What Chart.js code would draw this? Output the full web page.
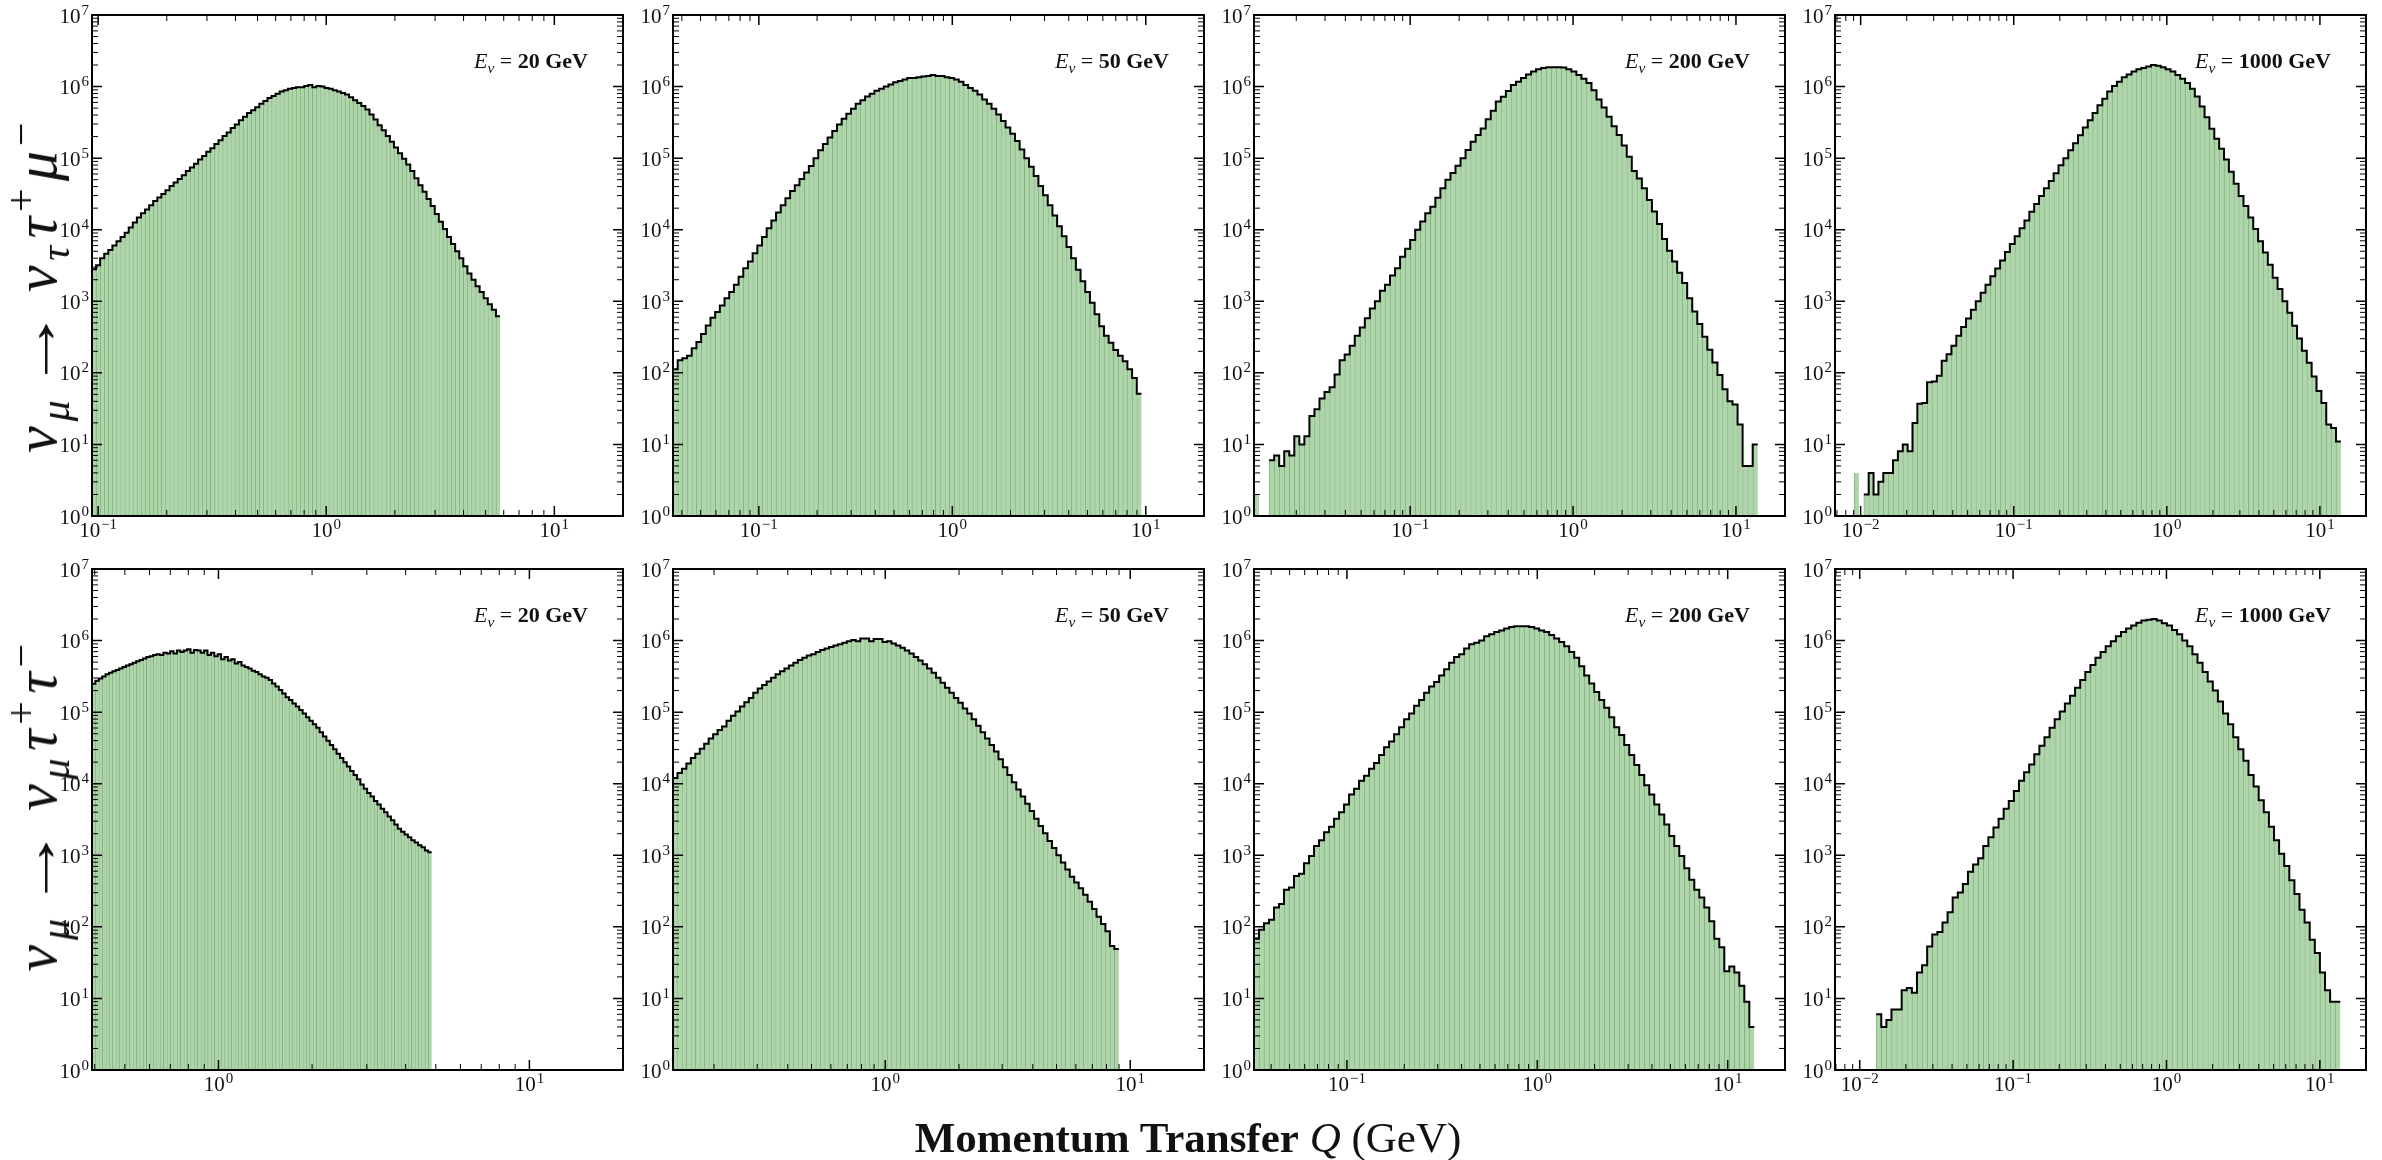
<!DOCTYPE html>
<html>
<head>
<meta charset="utf-8">
<script src="https://cdn.jsdelivr.net/npm/chart.js@4.4.0/dist/chart.umd.min.js"></script>
<style>
  html, body { margin: 0; padding: 0; background: #fff; }
  body { width: 2382px; height: 1160px; position: relative; overflow: hidden;
         font-family: "Liberation Serif", "DejaVu Serif", serif; color: #111; }
  .panel { position: absolute; }
  .energy { position: absolute; font-size: 22px; line-height: 1; white-space: nowrap;
            transform: translate(-100%, -50%); }
  .energy sub { font-size: 70%; line-height: 0; }
  .rowlabel { position: absolute; font-size: 60px; line-height: 1; white-space: nowrap;
              letter-spacing: 0.08em; transform: translate(-50%, -50%) rotate(-90deg); }
  .rowlabel sub, .rowlabel sup { font-size: 70%; line-height: 0; margin-right: 0.06em; }
  .rowlabel .arr { display: inline-block; transform: scaleX(1.4); margin: 0 0.35em 0 0.25em; }
  .xtitle { position: absolute; font-size: 43px; line-height: 1; white-space: nowrap;
            transform: translate(-50%, -50%); }
</style>
</head>
<body>
<script>
// incoming neutrino energies (GeV), one per column
const energies = [20, 50, 200, 1000];

// row 1: nu_mu -> nu_tau tau+ mu-   (event counts per log-spaced Q bin)
const muTau20 = [
  2.8e3, 3.2e3, 4.0e3, 4.6e3, 5.2e3, 6.0e3, 6.9e3, 7.9e3, 9.1e3, 1.07e4,
  1.26e4, 1.48e4, 1.70e4, 1.91e4, 2.19e4, 2.51e4, 2.82e4, 3.16e4, 3.55e4, 4.07e4,
  4.57e4, 5.13e4, 5.75e4, 6.61e4, 7.41e4, 8.32e4, 9.55e4, 1.07e5, 1.23e5, 1.38e5,
  1.58e5, 1.78e5, 2.04e5, 2.29e5, 2.63e5, 2.95e5, 3.39e5, 3.80e5, 4.27e5, 4.68e5,
  5.13e5, 5.75e5, 6.31e5, 6.92e5, 7.41e5, 7.94e5, 8.51e5, 8.91e5, 9.33e5, 9.55e5,
  9.77e5, 9.77e5, 1.02e6, 1.05e6, 9.77e5, 1.02e6, 1.00e6, 9.55e5, 9.33e5, 8.91e5,
  8.51e5, 8.13e5, 7.76e5, 7.08e5, 6.46e5, 5.89e5, 5.37e5, 4.79e5, 4.07e5, 3.47e5,
  2.88e5, 2.45e5, 2.04e5, 1.70e5, 1.41e5, 1.17e5, 9.77e4, 8.13e4, 6.61e4, 5.25e4,
  4.17e4, 3.39e4, 2.69e4, 2.14e4, 1.66e4, 1.29e4, 1.02e4, 7.94e3, 6.31e3, 5.01e3,
  3.98e3, 3.09e3, 2.45e3, 2.00e3, 1.62e3, 1.35e3, 1.10e3, 912, 759, 617
];
const muTau50 = [
  112, 150, 160, 174, 220, 270, 350, 460, 590, 710,
  870, 1100, 1350, 1700, 2200, 2900, 3600, 4700, 6000, 7900,
  1.05e4, 1.35e4, 1.74e4, 2.19e4, 2.75e4, 3.47e4, 4.17e4, 5.13e4, 6.31e4, 7.76e4,
  1.0e5, 1.29e5, 1.58e5, 1.95e5, 2.40e5, 2.95e5, 3.55e5, 4.17e5, 4.90e5, 5.75e5,
  6.46e5, 7.24e5, 7.94e5, 8.71e5, 9.33e5, 1.0e6, 1.07e6, 1.15e6, 1.20e6, 1.26e6,
  1.32e6, 1.32e6, 1.35e6, 1.38e6, 1.41e6, 1.45e6, 1.41e6, 1.41e6, 1.35e6, 1.32e6,
  1.26e6, 1.17e6, 1.05e6, 9.55e5, 8.71e5, 7.76e5, 6.61e5, 5.75e5, 4.90e5, 4.07e5,
  3.31e5, 2.69e5, 2.19e5, 1.74e5, 1.32e5, 1.0e5, 7.59e4, 5.62e4, 4.07e4, 3.02e4,
  2.19e4, 1.58e4, 1.12e4, 8130, 5750, 3980, 2750, 1910, 1350, 955,
  661, 447, 331, 263, 209, 174, 145, 112, 85, 51
];
const muTau200 = [
  2, 0, 0, 6, 7, 5, 8, 7, 13, 10,
  13, 25, 31, 44, 54, 63, 95, 150, 180, 240,
  330, 430, 580, 790, 1000, 1400, 1700, 2300, 2900, 4200,
  5400, 7200, 1.0e4, 1.3e4, 1.7e4, 2.1e4, 2.8e4, 3.8e4, 5.0e4, 6.2e4,
  7.8e4, 1.0e5, 1.3e5, 1.7e5, 2.1e5, 2.6e5, 3.5e5, 4.6e5, 6.2e5, 7.2e5,
  8.7e5, 1.05e6, 1.17e6, 1.32e6, 1.48e6, 1.62e6, 1.74e6, 1.82e6, 1.86e6, 1.86e6,
  1.86e6, 1.84e6, 1.74e6, 1.62e6, 1.45e6, 1.29e6, 1.12e6, 8.9e5, 6.6e5, 5.1e5,
  3.8e5, 2.8e5, 2.1e5, 1.5e5, 1.05e5, 6.6e4, 5.2e4, 3.8e4, 2.6e4, 1.8e4,
  1.2e4, 7400, 5100, 3600, 2500, 1800, 1100, 720, 480, 320,
  210, 140, 93, 59, 40, 36, 19, 5, 5, 10
];
const muTau1000 = [
  4, 0, 2, 4, 2, 3, 4, 4, 6, 8,
  10, 8, 20, 37, 38, 74, 76, 91, 148, 182,
  240, 331, 437, 575, 759, 1000, 1320, 1700, 2240, 2880,
  3720, 4900, 6310, 8130, 1.05e4, 1.35e4, 1.78e4, 2.29e4, 2.95e4, 3.80e4,
  4.79e4, 6.17e4, 7.94e4, 1.0e5, 1.29e5, 1.62e5, 2.09e5, 2.69e5, 3.39e5, 4.27e5,
  5.50e5, 6.76e5, 8.51e5, 1.02e6, 1.17e6, 1.35e6, 1.48e6, 1.62e6, 1.74e6, 1.82e6,
  1.91e6, 2.0e6, 1.95e6, 1.86e6, 1.74e6, 1.62e6, 1.45e6, 1.29e6, 1.12e6, 9.33e5,
  7.24e5, 5.25e5, 3.72e5, 2.57e5, 1.86e5, 1.35e5, 9.55e4, 6.46e4, 4.37e4, 2.95e4,
  2.14e4, 1.48e4, 1.02e4, 6920, 4790, 3240, 2140, 1480, 1000, 692,
  457, 302, 204, 138, 89, 56, 38, 19, 17, 11
];

// row 2: nu_mu -> nu_mu tau+ tau-
const tauTau20 = [
  2.50e5, 2.75e5, 2.95e5, 3.16e5, 3.39e5, 3.55e5, 3.72e5, 3.89e5, 4.07e5, 4.27e5,
  4.47e5, 4.68e5, 4.90e5, 5.13e5, 5.37e5, 5.62e5, 5.89e5, 6.03e5, 6.31e5, 6.46e5,
  6.31e5, 6.76e5, 6.61e5, 7.08e5, 6.61e5, 7.24e5, 6.92e5, 7.24e5, 7.59e5, 6.76e5,
  7.41e5, 7.24e5, 6.76e5, 7.24e5, 6.31e5, 6.76e5, 6.03e5, 6.46e5, 5.50e5, 5.89e5,
  5.25e5, 5.50e5, 4.79e5, 5.01e5, 4.47e5, 4.27e5, 4.07e5, 3.80e5, 3.63e5, 3.39e5,
  3.16e5, 3.02e5, 2.82e5, 2.51e5, 2.29e5, 2.04e5, 1.82e5, 1.62e5, 1.48e5, 1.32e5,
  1.20e5, 1.07e5, 9.55e4, 8.51e4, 7.59e4, 6.76e4, 6.03e4, 5.25e4, 4.57e4, 3.98e4,
  3.47e4, 3.02e4, 2.63e4, 2.29e4, 2.00e4, 1.74e4, 1.51e4, 1.32e4, 1.15e4, 9770,
  8510, 7410, 6610, 5750, 5130, 4470, 3980, 3470, 3090, 2690,
  2340, 2140, 1950, 1780, 1620, 1510, 1380, 1290, 1170, 1100
];
const tauTau50 = [
  1.20e4, 1.41e4, 1.62e4, 1.91e4, 2.29e4, 2.63e4, 3.09e4, 3.63e4, 4.27e4, 4.90e4,
  5.62e4, 6.31e4, 7.59e4, 8.91e4, 1.02e5, 1.20e5, 1.38e5, 1.58e5, 1.86e5, 2.14e5,
  2.40e5, 2.69e5, 3.02e5, 3.39e5, 3.72e5, 4.07e5, 4.47e5, 4.90e5, 5.37e5, 5.75e5,
  6.17e5, 6.46e5, 6.92e5, 7.41e5, 7.76e5, 8.13e5, 8.51e5, 8.91e5, 9.33e5, 9.77e5,
  1.02e6, 9.77e5, 1.07e6, 1.07e6, 9.77e5, 1.05e6, 1.05e6, 9.55e5, 9.77e5, 9.12e5,
  8.51e5, 7.94e5, 7.24e5, 6.61e5, 5.89e5, 5.25e5, 4.68e5, 4.07e5, 3.55e5, 3.02e5,
  2.57e5, 2.19e5, 1.86e5, 1.58e5, 1.35e5, 1.12e5, 9.55e4, 7.94e4, 6.46e4, 5.25e4,
  4.27e4, 3.47e4, 2.82e4, 2.19e4, 1.70e4, 1.32e4, 1.05e4, 8320, 6610, 5250,
  4170, 3240, 2570, 2040, 1580, 1260, 1000, 794, 631, 501,
  417, 347, 282, 224, 178, 138, 110, 87, 54, 49
];
const tauTau200 = [
  68, 91, 112, 126, 186, 209, 331, 355, 513, 550,
  776, 977, 1350, 1620, 2090, 2510, 3240, 3980, 5130, 7080,
  8510, 1.10e4, 1.29e4, 1.62e4, 1.95e4, 2.51e4, 3.24e4, 3.89e4, 4.90e4, 6.17e4,
  7.94e4, 9.55e4, 1.23e5, 1.48e5, 1.86e5, 2.29e5, 2.63e5, 3.24e5, 3.98e5, 4.90e5,
  5.89e5, 6.46e5, 7.76e5, 8.91e5, 9.33e5, 1.00e6, 1.15e6, 1.23e6, 1.32e6, 1.38e6,
  1.48e6, 1.55e6, 1.58e6, 1.58e6, 1.58e6, 1.55e6, 1.48e6, 1.38e6, 1.32e6, 1.20e6,
  1.07e6, 9.55e5, 8.32e5, 6.92e5, 5.75e5, 4.37e5, 3.24e5, 2.51e5, 1.91e5, 1.48e5,
  1.15e5, 8.51e4, 6.17e4, 4.79e4, 3.47e4, 2.51e4, 1.82e4, 1.32e4, 9550, 7080,
  5130, 3720, 2690, 1860, 1350, 977, 661, 457, 331, 257,
  186, 120, 68, 52, 24, 28, 23, 15, 9, 4
];
const tauTau1000 = [
  6, 4, 5, 7, 7, 13, 14, 12, 23, 29,
  53, 78, 85, 115, 160, 257, 302, 398, 589, 741,
  912, 1350, 1780, 2450, 3240, 4470, 5750, 7940, 1.10e4, 1.45e4,
  1.86e4, 2.57e4, 3.39e4, 4.47e4, 6.03e4, 7.94e4, 1.02e5, 1.32e5, 1.70e5, 2.19e5,
  2.82e5, 3.63e5, 4.57e5, 5.75e5, 6.92e5, 8.32e5, 9.77e5, 1.15e6, 1.32e6, 1.48e6,
  1.62e6, 1.78e6, 1.91e6, 1.95e6, 2.0e6, 1.91e6, 1.74e6, 1.62e6, 1.41e6, 1.23e6,
  1.0e6, 8.32e5, 6.46e5, 4.90e5, 3.63e5, 2.69e5, 2.00e5, 1.41e5, 9.55e4, 6.76e4,
  4.47e4, 3.02e4, 2.09e4, 1.32e4, 9120, 5890, 3980, 2510, 1620, 1050,
  708, 447, 288, 174, 115, 66, 43, 23, 13, 9,
  9
];

// histogram Q range (GeV) and x-axis lower limit of each panel
const qBinLow  = [[0.094, 0.036, 0.011, 0.00906], [0.392, 0.136, 0.0325, 0.0128]];
const qBinHigh = [[5.78, 9.5, 13.6, 13.7],        [4.85, 8.98, 13.8, 13.6]];
const qAxisMin = [[0.094, 0.036, 0.011, 0.0068],  [0.392, 0.136, 0.0325, 0.0069]];
const qAxisMax = 20;
const yTickMin = 1, yTickMax = 1e7;

const counts = [
  [muTau20, muTau50, muTau200, muTau1000],
  [tauTau20, tauTau50, tauTau200, tauTau1000]
];

// layout (px)
const colLeft = [92, 673, 1254, 1835];
const rowTop = [15, 569];
const PLOT_W = 531, PLOT_H = 501;
const AXIS_W = 62, AXIS_H = 44, PAD = 24;
const FONT = '"Liberation Serif", "DejaVu Serif", serif';
const BASE_FONT = '21px ' + FONT, EXP_FONT = '15px ' + FONT;

function decades(min, max) {
  const out = [];
  const lo = Math.ceil(Math.log10(min) - 1e-9), hi = Math.floor(Math.log10(max) + 1e-9);
  for (let e = lo; e <= hi; e++) out.push(Math.pow(10, e));
  return out;
}
function minors(min, max) {
  const out = [];
  for (let e = Math.floor(Math.log10(min)); e <= Math.ceil(Math.log10(max)); e++) {
    for (let k = 2; k <= 9; k++) {
      const v = k * Math.pow(10, e);
      if (v > min && v < max) out.push(v);
    }
  }
  return out;
}
function expText(v) {
  const e = Math.round(Math.log10(v));
  return e < 0 ? '\u2212' + (-e) : String(e);
}
// "10" with a raised exponent, left edge at x, baseline at y
function powWidth(ctx, v) {
  ctx.font = BASE_FONT;
  const w1 = ctx.measureText('10').width;
  ctx.font = EXP_FONT;
  return [w1, ctx.measureText(expText(v)).width + 1];
}
function drawPow(ctx, v, x, y) {
  const [w1] = powWidth(ctx, v);
  ctx.font = BASE_FONT;
  ctx.fillText('10', x, y);
  ctx.font = EXP_FONT;
  ctx.fillText(expText(v), x + w1 + 1, y - 8);
}

// inward ticks on all four sides, black frame, power-of-ten labels
const frameTicks = {
  id: 'frameTicks',
  afterDatasetsDraw(chart) {
    const { ctx, chartArea: a, scales: { x, y } } = chart;
    ctx.save();
    ctx.strokeStyle = '#000';
    const xt = (v, len, w) => {
      const p = x.getPixelForValue(v);
      ctx.lineWidth = w;
      ctx.beginPath();
      ctx.moveTo(p, a.bottom); ctx.lineTo(p, a.bottom - len);
      ctx.moveTo(p, a.top); ctx.lineTo(p, a.top + len);
      ctx.stroke();
    };
    const yt = (v, len, w) => {
      const p = y.getPixelForValue(v);
      ctx.lineWidth = w;
      ctx.beginPath();
      ctx.moveTo(a.left, p); ctx.lineTo(a.left + len, p);
      ctx.moveTo(a.right, p); ctx.lineTo(a.right - len, p);
      ctx.stroke();
    };
    minors(x.min, x.max).forEach(v => xt(v, 6, 1));
    decades(x.min, x.max).forEach(v => xt(v, 10, 1.5));
    minors(y.min, y.max).forEach(v => yt(v, 6, 1));
    decades(y.min, y.max).forEach(v => yt(v, 10, 1.5));
    ctx.lineWidth = 2;
    ctx.strokeRect(a.left, a.top, a.right - a.left, a.bottom - a.top);

    ctx.fillStyle = '#111';
    ctx.textBaseline = 'alphabetic';
    ctx.textAlign = 'left';
    decades(x.min, x.max).forEach(v => {
      const [w1, w2] = powWidth(ctx, v);
      drawPow(ctx, v, x.getPixelForValue(v) - (w1 + w2) / 2, a.bottom + 21);
    });
    decades(y.min, y.max).forEach(v => {
      const [w1, w2] = powWidth(ctx, v);
      drawPow(ctx, v, a.left - 3 - w1 - w2, y.getPixelForValue(v) + 7.5);
    });
    ctx.restore();
  }
};

function makePanel(row, col) {
  const data = counts[row][col];
  const lo = qBinLow[row][col], hi = qBinHigh[row][col];
  const n = data.length;
  const edges = [];
  for (let i = 0; i <= n; i++) edges.push(lo * Math.pow(hi / lo, i / n));

  const bars = data.map((c, i) => ({ x: Math.sqrt(edges[i] * edges[i + 1]), y: c }));
  const outline = [{ x: edges[0], y: 0 }];
  data.forEach((c, i) => outline.push({ x: edges[i], y: c }));
  outline.push({ x: edges[n], y: data[n - 1] });
  outline.push({ x: edges[n], y: 0 });

  const w = PLOT_W + AXIS_W + PAD, h = PLOT_H + PAD + AXIS_H;
  const box = document.createElement('div');
  box.className = 'panel';
  box.style.left = (colLeft[col] - AXIS_W) + 'px';
  box.style.top = (rowTop[row] - PAD) + 'px';
  box.style.width = w + 'px';
  box.style.height = h + 'px';
  const canvas = document.createElement('canvas');
  canvas.width = w;
  canvas.height = h;
  box.appendChild(canvas);
  document.body.appendChild(box);

  new Chart(canvas, {
    type: 'bar',
    data: {
      datasets: [
        { type: 'line', data: outline, borderColor: '#000', borderWidth: 2,
          stepped: true, pointRadius: 0, fill: false, order: 0 },
        { type: 'bar', data: bars, backgroundColor: '#afd6aa', borderColor: '#86b283',
          borderWidth: { left: 1, right: 0, top: 0, bottom: 0 }, borderSkipped: false,
          barPercentage: 1, categoryPercentage: 1, order: 1 }
      ]
    },
    options: {
      responsive: false,
      animation: false,
      events: [],
      layout: { padding: { top: PAD, right: PAD, left: 0, bottom: 0 } },
      plugins: { legend: { display: false }, tooltip: { enabled: false } },
      scales: {
        x: {
          type: 'logarithmic', min: qAxisMin[row][col], max: qAxisMax, offset: false,
          grid: { display: false, drawTicks: false }, border: { display: false },
          afterBuildTicks: s => { s.ticks = decades(s.min, s.max).map(v => ({ value: v })); },
          afterFit: s => { s.height = AXIS_H; },
          ticks: { display: false }
        },
        y: {
          type: 'logarithmic', min: yTickMin, max: yTickMax,
          grid: { display: false, drawTicks: false }, border: { display: false },
          afterBuildTicks: s => { s.ticks = decades(s.min, s.max).map(v => ({ value: v })); },
          afterFit: s => { s.width = AXIS_W; },
          ticks: { display: false }
        }
      }
    },
    plugins: [frameTicks]
  });

  const lab = document.createElement('div');
  lab.className = 'energy';
  lab.style.left = (colLeft[col] + PLOT_W - 35) + 'px';
  lab.style.top = (rowTop[row] + 46) + 'px';
  lab.innerHTML = '<i>E</i><sub><i>ν</i></sub> = <b>' + energies[col] + ' GeV</b>';
  document.body.appendChild(lab);
}

for (let r = 0; r < 2; r++) for (let c = 0; c < 4; c++) makePanel(r, c);

const rowLabels = [
  '<i>ν</i><sub><i>μ</i></sub><span class="arr">→</span><i>ν</i><sub><i>τ</i></sub><i>τ</i><sup>+</sup><i>μ</i><sup>−</sup>',
  '<i>ν</i><sub><i>μ</i></sub><span class="arr">→</span><i>ν</i><sub><i>μ</i></sub><i>τ</i><sup>+</sup><i>τ</i><sup>−</sup>'
];
const rowLabelY = [284, 804];
rowLabels.forEach((html, r) => {
  const d = document.createElement('div');
  d.className = 'rowlabel';
  d.style.left = '36px';
  d.style.top = rowLabelY[r] + 'px';
  d.innerHTML = html;
  document.body.appendChild(d);
});

const title = document.createElement('div');
title.className = 'xtitle';
title.style.left = '1188px';
title.style.top = '1137px';
title.innerHTML = '<b>Momentum Transfer</b> <i>Q</i> (GeV)';
document.body.appendChild(title);
</script>
</body>
</html>
